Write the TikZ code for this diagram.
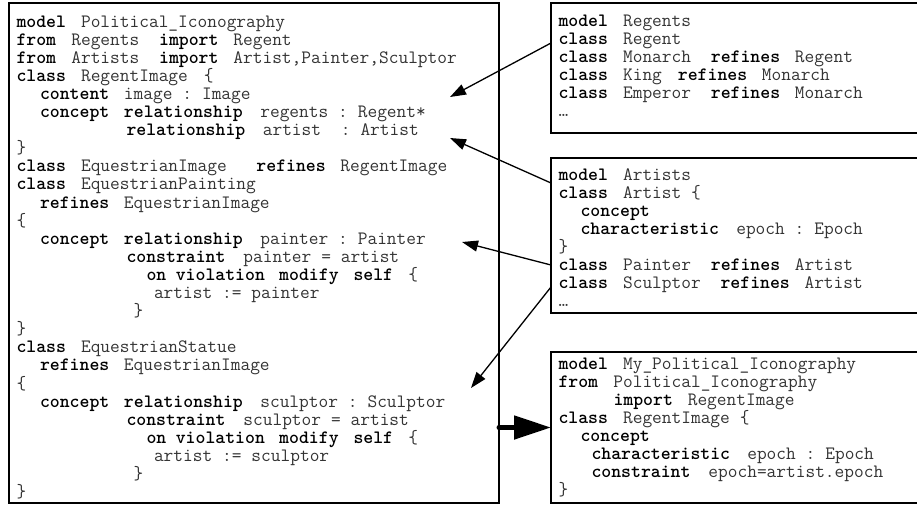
\documentclass[tikz,border=0pt]{standalone}
\usetikzlibrary{arrows.meta, positioning}
\newcommand{\kw}[1]{\setbox0\hbox{#1}\makebox[\wd0][l]{\textcolor{black}{\textbf{#1}}}}
\newcommand{\sk}{\hspace{9.9pt}}
\newcommand{\kgap}{\hspace{16pt}}
\newcommand{\codefont}{\ttfamily\fontsize{18.86pt}{18.1pt}\selectfont\lineskiplimit=-20pt\relax}

\begin{document}
\begin{tikzpicture}[
  x=1pt, y=-1pt,
  font=\codefont,
  box/.style={draw, line width=1.2pt, outer sep=0pt, anchor=north west, align=left, inner xsep=7.5pt, inner ysep=0pt, text=black!80},
  mainbox/.style={box, text width=475pt},
  sidebox/.style={box, text width=360pt},
  arr/.style={-{Triangle[length=16pt, width=11pt]}, line width=1.3pt},
  bigarr/.style={-{Triangle[length=37pt, width=23pt]}, line width=5pt, line cap=round},
]
\useasboundingbox (0,0) rectangle (917,507);
\node[mainbox, text height=24pt, text depth=476pt] (main) at (9,3) {\kw{model}\kgap Political\_Iconography\\
\kw{from}\kgap Regents\sk\sk\kw{import}\kgap Regent\\
\kw{from}\kgap Artists\sk\sk\kw{import}\kgap Artist,Painter,Sculptor\\
\kw{class}\kgap RegentImage\kgap\{\\
\hspace*{23.5pt}\kw{content}\kgap image\sk:\sk Image\\
\hspace*{23.5pt}\kw{concept}\kgap\kw{relationship}\sk\sk regents\sk:\sk Regent*\\
\hspace*{110pt}\kw{relationship}\sk\sk artist\sk\sk:\sk Artist\\
\}\\
\kw{class}\kgap EquestrianImage\sk\sk\sk\kw{refines}\kgap RegentImage\\
\kw{class}\kgap EquestrianPainting\\
\hspace*{23.5pt}\kw{refines}\kgap EquestrianImage\\
\{\\
\hspace*{23.5pt}\kw{concept}\kgap\kw{relationship}\sk\sk painter\sk:\sk Painter\\
\hspace*{110pt}\kw{constraint}\sk\sk painter\sk=\sk artist\\
\hspace*{130pt}\kw{on}\sk\kw{violation}\kgap\kw{modify}\kgap\kw{self}\kgap\{\\
\hspace*{137.5pt}artist\sk:=\sk painter\\
\hspace*{117pt}\}\\
\}\\
\kw{class}\kgap EquestrianStatue\\
\hspace*{23.5pt}\kw{refines}\kgap EquestrianImage\\
\{\\
\hspace*{23.5pt}\kw{concept}\kgap\kw{relationship}\sk\sk sculptor\sk:\sk Sculptor\\
\hspace*{110pt}\kw{constraint}\sk\sk sculptor\sk=\sk artist\\
\hspace*{130pt}\kw{on}\sk\kw{violation}\kgap\kw{modify}\kgap\kw{self}\kgap\{\\
\hspace*{137.5pt}artist\sk:=\sk sculptor\\
\hspace*{117pt}\}\\
\}};
\node[sidebox, text height=23pt, text depth=107pt] (regents) at (551,3) {\kw{model}\kgap Regents\\
\kw{class}\kgap Regent\\
\kw{class}\kgap Monarch\sk\sk\kw{refines}\kgap Regent\\
\kw{class}\kgap King\kgap\kw{refines}\kgap Monarch\\
\kw{class}\kgap Emperor\sk\sk\kw{refines}\kgap Monarch\\
…};
\node[sidebox, text height=22pt, text depth=133pt, below=25pt of regents] (artists) {\kw{model}\kgap Artists\\
\kw{class}\kgap Artist\sk\{\\
\hspace*{22pt}\kw{concept}\\
\hspace*{22pt}\kw{characteristic}\sk\sk epoch\sk:\sk Epoch\\
\}\\
\kw{class}\kgap Painter\sk\sk\kw{refines}\kgap Artist\\
\kw{class}\kgap Sculptor\sk\sk\kw{refines}\kgap Artist\\
…};
\node[sidebox, text height=17pt, text depth=134pt, below=39pt of artists] (mine) {\kw{model}\kgap My\_Political\_Iconography\\
\kw{from}\kgap Political\_Iconography\\
\hspace*{55pt}\kw{import}\kgap RegentImage\\
\kw{class}\kgap RegentImage\sk\{\\
\hspace*{22pt}\kw{concept}\\
\hspace*{33pt}\kw{characteristic}\sk\sk epoch\sk:\sk Epoch\\
\hspace*{33pt}\kw{constraint}\sk\sk epoch=artist.epoch\\
\}};
\coordinate (regentsref) at (450,97);
\coordinate (artistref) at (450,138);
\coordinate (painterref) at (462,242);
\coordinate (sculptorref) at (471,388);
\draw[arr] ([yshift=25pt]regents.west) -- (regentsref);
\draw[arr] ([yshift=52.5pt]artists.west) -- (artistref);
\draw[arr] ([yshift=-29.5pt]artists.west) -- (painterref);
\draw[arr] ([yshift=-51.5pt]artists.west) -- (sculptorref);
\draw[bigarr] (main.east |- mine.west) -- (mine.west);
\end{tikzpicture}
\end{document}
